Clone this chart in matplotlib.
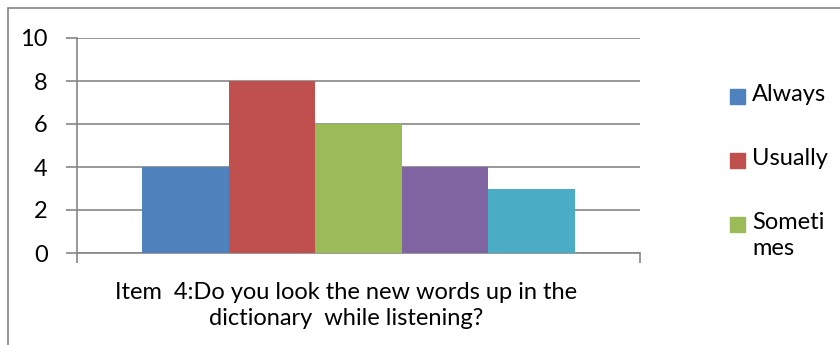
import matplotlib.pyplot as plt
from matplotlib.patches import Rectangle

# Datos
series = ['Always', 'Usually', 'Sometimes', 'Rarely', 'Never']
values = [4, 8, 6, 4, 3]
colors = ['#4F81BD', '#C0504D', '#9BBB59', '#8064A2', '#4BACC6']
legend_labels = ['Always', 'Usually', 'Someti\nmes']
category = 'Item  4:Do you look the new words up in the\ndictionary  while listening?'

plt.rcParams['font.family'] = ['Lato', 'DejaVu Sans']

W, H = 840, 345
fig = plt.figure(figsize=(W / 100, H / 100), dpi=100)
ax = fig.add_axes([77 / W, 1 - 253 / H, (640 - 77) / W, (253 - 38) / H])

# borde exterior del gráfico
fig.add_artist(Rectangle((8 / W, -0.1), 1.2, 1 - 8 / H + 0.1, transform=fig.transFigure,
                         fill=False, edgecolor='#868686', linewidth=1.2))

grid_color = '#868686'
fs = 17
n = len(values)
w = 1 / (n + 1.5)
for i, (s, v, c) in enumerate(zip(series, values, colors)):
    ax.bar((i - (n - 1) / 2) * w, v, width=w, color=c, label=s, zorder=3)

ax.set_xlim(-0.5, 0.5)
ax.set_ylim(0, 10)
ax.set_yticks(range(0, 11, 2))
ax.yaxis.grid(True, color=grid_color, linewidth=1.2, zorder=0)
ax.set_xticks([-0.5, 0.5])
ax.set_xticklabels([])
ax.tick_params(axis='x', length=7, width=1.2, color=grid_color, direction='out')
ax.tick_params(axis='y', length=8, width=1.2, color=grid_color, labelsize=fs, pad=13)
for side in ['top', 'right']:
    ax.spines[side].set_visible(False)
for side in ['left', 'bottom']:
    ax.spines[side].set_color(grid_color)
    ax.spines[side].set_linewidth(1.2)

ax.set_xlabel(category, fontsize=fs, linespacing=1.3, va='top')
ax.xaxis.set_label_coords((346 - 77) / 563, -0.135)

# leyenda (solo entran tres entradas)
ys = [97, 161, 225]
for lab, c, y in zip(legend_labels, colors, ys):
    fig.add_artist(Rectangle((730 / W, 1 - (y + 7) / H), 15 / W, 15 / H,
                             transform=fig.transFigure, color=c))
    fig.text(752 / W, 1 - (y - 13) / H, lab, fontsize=fs, va='top', ha='left',
             linespacing=1.3)

fig.savefig('out.png', dpi=100)
